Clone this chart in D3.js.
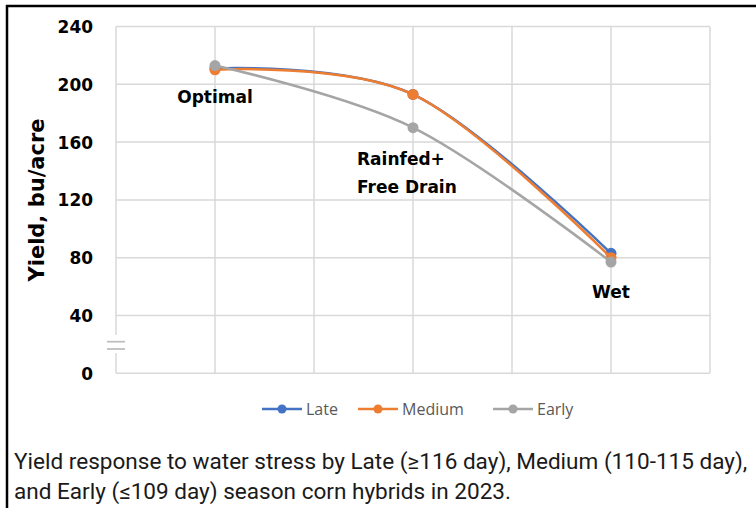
<!DOCTYPE html>
<html><head><meta charset="utf-8">
<script src="https://cdn.jsdelivr.net/npm/d3@7"></script>
<style>body{margin:0;background:#fff}svg{display:block}</style>
</head><body>
<svg id="c" width="756" height="508"></svg>
<script>
const categories = ["Optimal", "Rainfed+ Free Drain", "Wet"];
const late   = [211, 193, 83];
const medium = [210, 193, 80];
const early  = [213, 170, 77];
const yTicks = [0, 40, 80, 120, 160, 200, 240];
const seriesNames = ["Late", "Medium", "Early"];
const seriesColors = ["#4472C4", "#ED7D31", "#A5A5A5"];
const captionLines = ["Yield response to water stress by Late (\u2265116 day), Medium (110-115 day),",
                      "and Early (\u2264109 day) season corn hybrids in 2023."];

const svg = d3.select("#c");
const L = 116, R = 710, T = 26.5, B = 373.3;
const x = d3.scaleBand().domain(categories).range([L, R]).paddingInner(0).paddingOuter(0);
const y = d3.scaleLinear().domain([0, 240]).range([B, T]);
const grid = "#d9d9d9";

// frame
svg.append("line").attr("x1",7).attr("x2",7).attr("y1",5).attr("y2",508).attr("stroke","#000").attr("stroke-width",2.5);
svg.append("line").attr("x1",6).attr("x2",756).attr("y1",6).attr("y2",6).attr("stroke","#000").attr("stroke-width",2.5);

// horizontal grid
svg.append("g").selectAll("line").data(yTicks).join("line")
  .attr("x1", L).attr("x2", R).attr("y1", d => y(d)).attr("y2", d => y(d))
  .attr("stroke", grid).attr("stroke-width", 1.5);

// vertical grid (band edges and centers)
const vx = [];
categories.forEach(c => { vx.push(x(c)); vx.push(x(c) + x.bandwidth()/2); });
vx.push(R);
const breakTop = 335, breakBot = 353;
svg.append("g").selectAll("line").data(vx).join("line")
  .attr("x1", d => d).attr("x2", d => d).attr("y1", T)
  .attr("y2", d => d === L ? breakTop : B)
  .attr("stroke", grid).attr("stroke-width", 1.5);
svg.append("line").attr("x1", L).attr("x2", L).attr("y1", breakBot).attr("y2", B)
  .attr("stroke", grid).attr("stroke-width", 1.5);
// axis break marks
[341.7, 349].forEach(yy => svg.append("line").attr("x1",107).attr("x2",125).attr("y1",yy).attr("y2",yy)
  .attr("stroke","#bfbfbf").attr("stroke-width",1.8));

// y tick labels
svg.append("g").selectAll("text").data(yTicks).join("text")
  .attr("x", 93).attr("y", d => y(d)).attr("dy", "0.36em").attr("text-anchor","end")
  .attr("font-family","DejaVu Sans").attr("font-weight","bold").attr("font-size",18)
  .attr("textLength", d => String(d).length * 11.8).attr("lengthAdjust","spacingAndGlyphs")
  .attr("fill","#000").text(d => d);

// y axis title
svg.append("text").attr("transform","translate(44,200) rotate(-90)").attr("text-anchor","middle")
  .attr("font-family","DejaVu Sans").attr("font-weight","bold").attr("font-size",21)
  .text("Yield, bu/acre");

// series
const series = [late, medium, early];
const line = d3.line().x((d,i) => x(categories[i]) + x.bandwidth()/2).y(d => y(d))
  .curve(d3.curveCardinal.tension(0));
series.forEach((s, k) => {
  const g = svg.append("g");
  g.append("path").attr("d", line(s)).attr("fill","none").attr("stroke", seriesColors[k]).attr("stroke-width", 2.5);
  g.selectAll("circle").data(s).join("circle")
    .attr("cx", (d,i) => x(categories[i]) + x.bandwidth()/2).attr("cy", d => y(d)).attr("r", 5.5)
    .attr("fill", seriesColors[k]);
});

// category labels
const lab = svg.append("g").attr("font-family","DejaVu Sans").attr("font-weight","bold").attr("font-size",17).attr("fill","#000");
lab.append("text").attr("x", x(categories[0]) + x.bandwidth()/2).attr("y", 103).attr("text-anchor","middle").text("Optimal");
lab.append("text").attr("x", 357).attr("y", 165).text("Rainfed+");
lab.append("text").attr("x", 357).attr("y", 193).text("Free Drain");
lab.append("text").attr("x", x(categories[2]) + x.bandwidth()/2).attr("y", 298).attr("text-anchor","middle").text("Wet");

// legend
const legX = [262, 358, 493];
const leg = svg.append("g");
seriesNames.forEach((n, k) => {
  const lx = legX[k], ly = 409;
  leg.append("line").attr("x1", lx).attr("x2", lx + 40).attr("y1", ly).attr("y2", ly)
    .attr("stroke", seriesColors[k]).attr("stroke-width", 2.5);
  leg.append("circle").attr("cx", lx + 20).attr("cy", ly).attr("r", 4.5).attr("fill", seriesColors[k]);
  leg.append("text").attr("x", lx + 44).attr("y", ly).attr("dy","0.36em")
    .attr("font-family","Open Sans").attr("font-size",16).attr("fill","#595959").text(n);
});

// caption
const cap = svg.append("g").attr("font-family","Roboto").attr("font-size",22).attr("fill","#1a1a1a");
const t1 = cap.append("text").attr("x", 0).attr("y", 0).text(captionLines[0]);
const t2 = cap.append("text").attr("x", 0).attr("y", 30).text(captionLines[1]);
const sx = 734 / t1.node().getComputedTextLength();
cap.attr("transform", `translate(14,469) scale(${sx},1)`);
</script>
</body></html>
